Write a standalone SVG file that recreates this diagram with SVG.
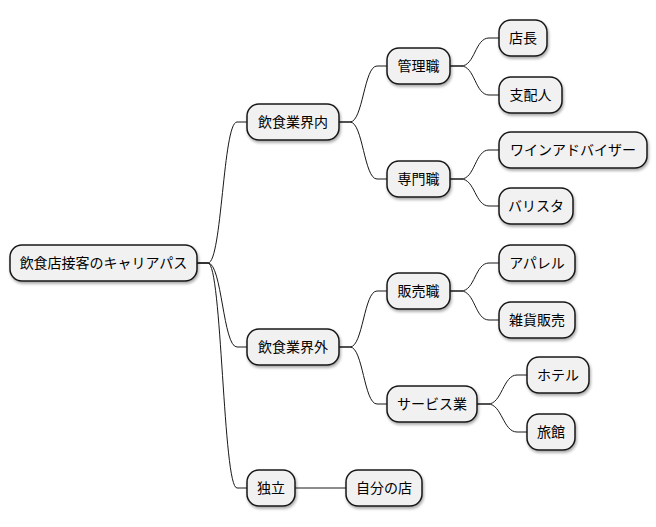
<svg xmlns="http://www.w3.org/2000/svg" width="656" height="527" viewBox="0 0 656 527">
<style>
.n rect{fill:#F1F1F1;stroke:#181818;stroke-width:1.5;filter:url(#sh)}
.n text{font-family:"Noto Sans CJK JP","Noto Sans",sans-serif;font-size:14px;fill:#000;text-anchor:middle}
#edges path{fill:none;stroke:#181818;stroke-width:1}
</style>
<defs>
<filter id="sh" x="-20%" y="-20%" width="140%" height="160%">
<feGaussianBlur in="SourceAlpha" stdDeviation="1.5"/>
<feOffset dx="1" dy="2" result="b"/>
<feComponentTransfer><feFuncA type="linear" slope="0.35"/></feComponentTransfer>
<feMerge><feMergeNode/><feMergeNode in="SourceGraphic"/></feMerge>
</filter>
</defs>
<rect width="656" height="527" fill="#fff"/>
<g id="edges">
<path d="M197,263 H208 C222,263 223,122 237,122 H247"/>
<path d="M197,263 H208 C222,263 223,347 237,347 H247"/>
<path d="M197,263 H208 C222,263 223,488 237,488 H247"/>
<path d="M339,122 H350 C363,122 364,66 377,66 H387"/>
<path d="M339,122 H350 C363,122 364,179 377,179 H387"/>
<path d="M450,66 H461 C475,66 475,38 489,38 H499"/>
<path d="M450,66 H461 C475,66 475,95 489,95 H499"/>
<path d="M450,179 H461 C475,179 475,150 489,150 H499"/>
<path d="M450,179 H461 C475,179 475,206 489,206 H499"/>
<path d="M339,347 H350 C363,347 364,291 377,291 H387"/>
<path d="M339,347 H350 C363,347 364,404 377,404 H387"/>
<path d="M450,291 H461 C475,291 475,263 489,263 H499"/>
<path d="M450,291 H461 C475,291 475,320 489,320 H499"/>
<path d="M477,404 H488 C502,404 503,375 517,375 H527"/>
<path d="M477,404 H488 C502,404 503,432 517,432 H527"/>
<path d="M295,488 H346"/>
</g>
<g id="root" class="n"><rect x="10" y="245" width="187" height="36" rx="12"/><text x="103.5" y="268">飲食店接客のキャリアパス</text></g>
<g id="n1" class="n"><rect x="247" y="104" width="92" height="36" rx="12"/><text x="293" y="127">飲食業界内</text></g>
<g id="n2" class="n"><rect x="387" y="48" width="63" height="36" rx="12"/><text x="418.5" y="71">管理職</text></g>
<g id="n3" class="n"><rect x="499" y="20" width="48" height="36" rx="12"/><text x="523" y="43">店長</text></g>
<g id="n4" class="n"><rect x="499" y="77" width="63" height="36" rx="12"/><text x="530.5" y="100">支配人</text></g>
<g id="n5" class="n"><rect x="387" y="161" width="63" height="36" rx="12"/><text x="418.5" y="184">専門職</text></g>
<g id="n6" class="n"><rect x="499" y="132" width="148" height="36" rx="12"/><text x="573" y="155">ワインアドバイザー</text></g>
<g id="n7" class="n"><rect x="499" y="188" width="74" height="36" rx="12"/><text x="536" y="211">バリスタ</text></g>
<g id="n8" class="n"><rect x="247" y="329" width="92" height="36" rx="12"/><text x="293" y="352">飲食業界外</text></g>
<g id="n9" class="n"><rect x="387" y="273" width="63" height="36" rx="12"/><text x="418.5" y="296">販売職</text></g>
<g id="n10" class="n"><rect x="499" y="245" width="76" height="36" rx="12"/><text x="537" y="268">アパレル</text></g>
<g id="n11" class="n"><rect x="499" y="302" width="76" height="36" rx="12"/><text x="537" y="325">雑貨販売</text></g>
<g id="n12" class="n"><rect x="387" y="386" width="90" height="36" rx="12"/><text x="432" y="409">サービス業</text></g>
<g id="n13" class="n"><rect x="527" y="357" width="62" height="36" rx="12"/><text x="558" y="380">ホテル</text></g>
<g id="n14" class="n"><rect x="527" y="414" width="48" height="36" rx="12"/><text x="551" y="437">旅館</text></g>
<g id="n15" class="n"><rect x="247" y="470" width="48" height="36" rx="12"/><text x="271" y="493">独立</text></g>
<g id="n16" class="n"><rect x="346" y="470" width="76" height="36" rx="12"/><text x="384" y="493">自分の店</text></g>
</svg>
